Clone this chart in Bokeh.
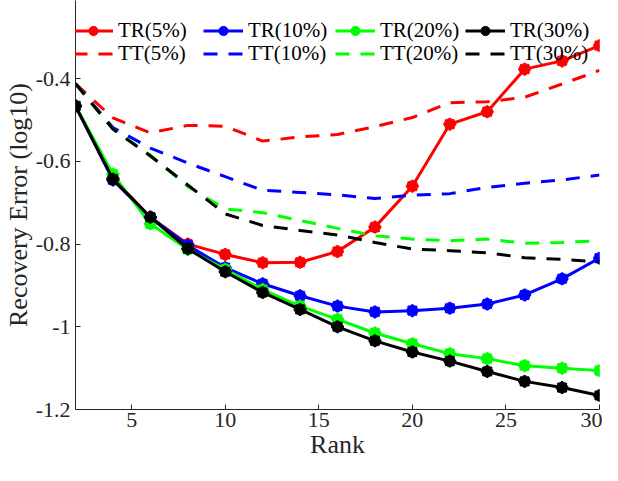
from bokeh.plotting import figure
from bokeh.models import Legend, LegendItem, FixedTicker, Range1d
from bokeh.embed import file_html
from bokeh.resources import INLINE

ranks = [2, 4, 6, 8, 10, 12, 14, 16, 18, 20, 22, 24, 26, 28, 30]

tr5 = [-0.466, -0.640, -0.735, -0.800, -0.825, -0.845, -0.844, -0.818, -0.759, -0.660, -0.510, -0.480, -0.377, -0.357, -0.320]
tr10 = [-0.466, -0.645, -0.735, -0.803, -0.857, -0.896, -0.925, -0.950, -0.964, -0.961, -0.955, -0.945, -0.923, -0.884, -0.834]
tr20 = [-0.466, -0.631, -0.751, -0.813, -0.861, -0.910, -0.950, -0.982, -1.015, -1.041, -1.065, -1.077, -1.094, -1.100, -1.106]
tr30 = [-0.466, -0.643, -0.735, -0.811, -0.867, -0.917, -0.958, -1.000, -1.034, -1.061, -1.083, -1.108, -1.132, -1.147, -1.166]

tt5 = [-0.412, -0.495, -0.531, -0.513, -0.515, -0.551, -0.541, -0.535, -0.516, -0.494, -0.458, -0.456, -0.445, -0.413, -0.380]
tt10 = [-0.412, -0.518, -0.568, -0.604, -0.637, -0.670, -0.675, -0.681, -0.690, -0.682, -0.678, -0.663, -0.653, -0.645, -0.633]
tt20 = [-0.412, -0.522, -0.585, -0.661, -0.715, -0.724, -0.743, -0.762, -0.780, -0.788, -0.792, -0.788, -0.798, -0.796, -0.792]
tt30 = [-0.412, -0.522, -0.587, -0.657, -0.727, -0.755, -0.767, -0.778, -0.796, -0.812, -0.816, -0.821, -0.833, -0.837, -0.843]

tr_labels = ["TR(5%)", "TR(10%)", "TR(20%)", "TR(30%)"]
tt_labels = ["TT(5%)", "TT(10%)", "TT(20%)", "TT(30%)"]
colors = ["#ff0000", "#0000ff", "#00ff00", "#000000"]

x_ticks = [5, 10, 15, 20, 25, 30]
y_ticks = [-1.2, -1.0, -0.8, -0.6, -0.4]
y_tick_labels = ["-1.2", "-1", "-0.8", "-0.6", "-0.4"]

FONT = "Liberation Serif"
INK = "#262626"

p = figure(width=602, height=465, output_backend="svg", toolbar_location=None,
           x_range=Range1d(2, 30), y_range=Range1d(-1.2, -0.211),
           min_border_left=71, min_border_right=3, min_border_top=0, min_border_bottom=56)
p.outline_line_color = None
p.xgrid.visible = False
p.ygrid.visible = False
p.background_fill_color = "white"

tr_series = [tr5, tr10, tr20, tr30]
tt_series = [tt5, tt10, tt20, tt30]

tr_r = []
for ys, c in zip(tr_series, colors):
    ln = p.line(ranks, ys, line_color=c, line_width=3)
    mk = p.scatter(ranks, ys, marker="circle", size=11, fill_color=c, line_color=c)
    p.scatter(ranks, ys, marker="asterisk", size=13, line_color=c, line_width=2)
    tr_r.append((ln, mk))

tt_r = []
for ys, c in zip(tt_series, colors):
    ln = p.line(ranks, ys, line_color=c, line_width=3, line_dash="14 11")
    tt_r.append(ln)

col_x = [-2, 128, 260, 390]
row_y = [366, 343]
for i in range(4):
    for row, (lab, rends) in enumerate([(tr_labels[i], list(tr_r[i])), (tt_labels[i], [tt_r[i]])]):
        lg = Legend(items=[LegendItem(label=lab, renderers=rends)],
                    location=(col_x[i], row_y[row]),
                    padding=0, margin=0, spacing=0,
                    glyph_width=40, glyph_height=23, label_standoff=5, label_height=23,
                    label_text_font=FONT, label_text_font_size="21px", label_text_color="#000000",
                    label_text_line_height=1.0,
                    background_fill_alpha=0, border_line_alpha=0)
        p.add_layout(lg)

for ax in (p.xaxis[0], p.yaxis[0]):
    ax.axis_line_color = INK
    ax.axis_line_width = 1
    ax.major_tick_line_color = INK
    ax.major_tick_in = 5
    ax.major_tick_out = 0
    ax.minor_tick_line_color = None
    ax.major_label_text_font = FONT
    ax.major_label_text_font_size = "22px"
    ax.major_label_text_color = INK
    ax.axis_label_text_font = FONT
    ax.axis_label_text_font_size = "26px"
    ax.axis_label_text_font_style = "normal"
    ax.axis_label_text_color = INK

p.xaxis.ticker = FixedTicker(ticks=x_ticks)
p.yaxis.ticker = FixedTicker(ticks=y_ticks)
p.yaxis.major_label_overrides = {t: l for t, l in zip(y_ticks, y_tick_labels)}
p.xaxis.axis_label = "Rank"
p.yaxis.axis_label = "Recovery Error (log10)"
p.xaxis.major_label_standoff = 3
p.xaxis.axis_label_standoff = 0
p.yaxis.major_label_standoff = 5
p.yaxis.axis_label_standoff = 0

open("out.html", "w").write(file_html(p, INLINE))
